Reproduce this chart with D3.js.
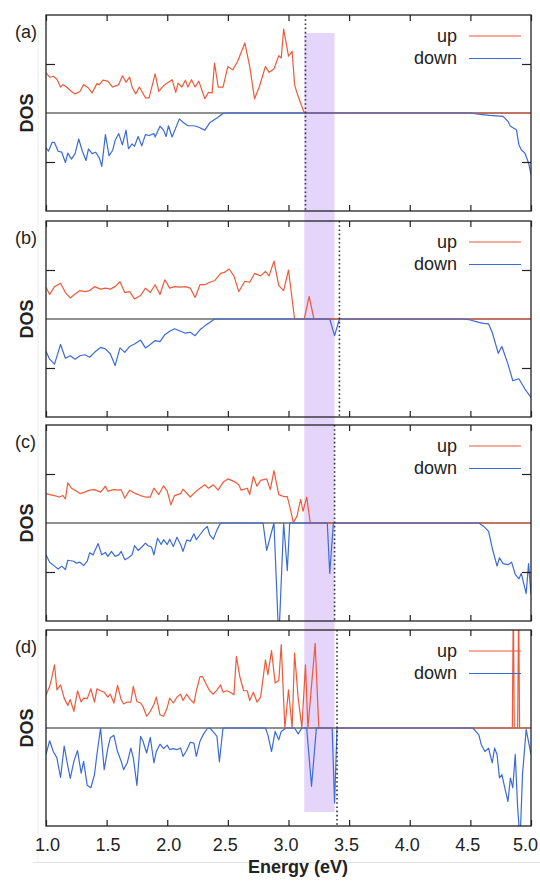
<!DOCTYPE html>
<html>
<head>
<meta charset="utf-8">
<script src="https://cdn.jsdelivr.net/npm/d3@7"></script>
<style>
  html, body { margin: 0; padding: 0; background: #fff; }
  #chart svg text { font-family: "Liberation Sans", Arial, Helvetica, sans-serif; fill: #222; }
</style>
</head>
<body>
<div id="chart"></div>
<script>
// DOS curves, [energy eV, DOS] pairs (arbitrary units, tick = 1)
const upA = [[1.00,0.82],[1.03,0.73],[1.06,0.75],[1.09,0.69],[1.12,0.53],[1.14,0.58],[1.17,0.53],[1.21,0.44],[1.24,0.39],[1.28,0.44],[1.31,0.58],[1.35,0.51],[1.38,0.41],[1.42,0.60],[1.44,0.58],[1.47,0.67],[1.51,0.65],[1.55,0.53],[1.60,0.58],[1.63,0.76],[1.66,0.63],[1.69,0.73],[1.71,0.53],[1.74,0.39],[1.77,0.53],[1.82,0.31],[1.85,0.31],[1.90,0.80],[1.93,0.44],[1.97,0.56],[2.00,0.61],[2.04,0.68],[2.07,0.42],[2.09,0.61],[2.12,0.53],[2.15,0.67],[2.17,0.53],[2.20,0.68],[2.23,0.53],[2.26,0.65],[2.31,0.29],[2.34,0.42],[2.37,0.41],[2.39,1.02],[2.42,0.53],[2.46,0.53],[2.50,0.95],[2.54,0.88],[2.58,1.05],[2.64,1.43],[2.68,0.95],[2.72,0.29],[2.76,0.54],[2.81,0.95],[2.84,0.83],[2.88,0.90],[2.92,1.17],[2.94,1.12],[2.96,1.71],[3.00,1.16],[3.03,1.26],[3.05,0.58],[3.07,0.41],[3.09,0.27],[3.13,0],[5.00,0]];
const downA = [[1.00,-0.71],[1.02,-0.78],[1.05,-0.60],[1.07,-0.60],[1.10,-0.78],[1.13,-0.80],[1.16,-1.01],[1.18,-0.82],[1.21,-0.94],[1.24,-0.83],[1.27,-0.53],[1.30,-0.78],[1.33,-0.97],[1.35,-0.73],[1.38,-0.83],[1.41,-0.80],[1.44,-0.92],[1.46,-1.09],[1.49,-0.44],[1.52,-0.87],[1.55,-0.76],[1.57,-0.56],[1.60,-0.42],[1.63,-0.65],[1.66,-0.35],[1.68,-0.73],[1.71,-0.63],[1.73,-0.68],[1.76,-0.48],[1.79,-0.67],[1.82,-0.44],[1.85,-0.46],[1.89,-0.42],[1.90,-0.49],[1.94,-0.27],[1.97,-0.35],[1.99,-0.48],[2.01,-0.26],[2.04,-0.49],[2.10,-0.12],[2.13,-0.19],[2.17,-0.26],[2.22,-0.26],[2.26,-0.29],[2.31,-0.35],[2.35,-0.20],[2.41,-0.10],[2.46,-0.01],[2.50,0],[4.50,0],[4.58,-0.03],[4.66,-0.05],[4.77,-0.07],[4.81,-0.17],[4.83,-0.27],[4.88,-0.34],[4.90,-0.65],[4.92,-0.75],[4.95,-0.82],[4.98,-1.02],[5.00,-1.26]];

const upB = [[1.00,0.65],[1.03,0.50],[1.07,0.66],[1.12,0.73],[1.16,0.54],[1.20,0.43],[1.24,0.51],[1.28,0.58],[1.32,0.56],[1.36,0.58],[1.40,0.66],[1.45,0.61],[1.49,0.63],[1.53,0.61],[1.57,0.66],[1.61,0.76],[1.65,0.54],[1.69,0.56],[1.73,0.41],[1.78,0.48],[1.82,0.63],[1.86,0.54],[1.90,0.70],[1.94,0.50],[1.98,0.80],[2.02,0.63],[2.06,0.66],[2.11,0.65],[2.15,0.66],[2.19,0.63],[2.23,0.44],[2.27,0.70],[2.31,0.70],[2.35,0.75],[2.39,0.78],[2.44,0.93],[2.47,0.95],[2.51,1.02],[2.55,0.88],[2.59,0.56],[2.64,0.77],[2.68,0.75],[2.72,0.93],[2.77,0.88],[2.81,0.97],[2.84,0.88],[2.88,1.18],[2.92,0.68],[2.96,0.58],[3.00,1.00],[3.05,0],[3.13,0],[3.17,0.46],[3.21,0],[5.00,0]];
const downB = [[1.00,-0.66],[1.03,-0.82],[1.07,-0.92],[1.12,-0.52],[1.16,-0.80],[1.20,-0.75],[1.24,-0.82],[1.28,-0.75],[1.32,-0.73],[1.36,-0.78],[1.40,-0.68],[1.45,-0.58],[1.49,-0.61],[1.53,-0.71],[1.57,-0.95],[1.61,-0.59],[1.65,-0.68],[1.69,-0.56],[1.73,-0.51],[1.78,-0.43],[1.82,-0.59],[1.86,-0.52],[1.90,-0.44],[1.94,-0.46],[1.98,-0.32],[2.02,-0.25],[2.06,-0.20],[2.11,-0.25],[2.15,-0.29],[2.19,-0.27],[2.23,-0.34],[2.27,-0.22],[2.31,-0.14],[2.35,-0.07],[2.39,0],[3.34,0],[3.38,-0.34],[3.42,0],[4.44,0],[4.50,-0.02],[4.57,-0.07],[4.61,-0.09],[4.65,-0.10],[4.68,-0.27],[4.73,-0.70],[4.76,-0.56],[4.81,-0.92],[4.85,-1.26],[4.90,-1.22],[4.95,-1.43],[5.00,-1.60]];

const upC = [[1.00,0.60],[1.03,0.58],[1.07,0.56],[1.11,0.53],[1.14,0.56],[1.16,0.49],[1.18,0.82],[1.21,0.71],[1.24,0.67],[1.28,0.60],[1.32,0.63],[1.36,0.67],[1.40,0.68],[1.45,0.63],[1.49,0.75],[1.51,0.65],[1.56,0.68],[1.60,0.67],[1.62,0.68],[1.65,0.51],[1.69,0.67],[1.73,0.61],[1.78,0.56],[1.82,0.53],[1.86,0.53],[1.89,0.71],[1.93,0.58],[1.97,0.76],[2.00,0.65],[2.03,0.37],[2.06,0.56],[2.11,0.60],[2.13,0.69],[2.19,0.53],[2.23,0.63],[2.27,0.71],[2.31,0.78],[2.34,0.71],[2.38,0.78],[2.42,0.67],[2.46,0.83],[2.50,0.90],[2.55,0.85],[2.59,0.78],[2.61,0.67],[2.66,0.71],[2.68,0.58],[2.71,0.95],[2.74,0.75],[2.77,0.87],[2.82,0.90],[2.85,0.68],[2.88,1.07],[2.92,0.58],[2.96,0.54],[2.99,0.54],[3.01,0.34],[3.04,0.01],[3.07,0.14],[3.10,0.48],[3.12,0.24],[3.15,0.53],[3.18,0],[5.00,0]];
const downC = [[1.00,-0.65],[1.03,-0.80],[1.07,-0.88],[1.10,-0.94],[1.13,-0.88],[1.16,-0.95],[1.18,-0.76],[1.23,-0.78],[1.25,-0.82],[1.28,-0.80],[1.31,-0.87],[1.34,-0.78],[1.36,-0.61],[1.39,-0.65],[1.40,-0.58],[1.43,-0.42],[1.46,-0.65],[1.49,-0.60],[1.51,-0.68],[1.54,-0.58],[1.57,-0.68],[1.60,-0.65],[1.62,-0.58],[1.65,-0.75],[1.68,-0.71],[1.71,-0.65],[1.73,-0.46],[1.76,-0.56],[1.79,-0.49],[1.82,-0.41],[1.84,-0.46],[1.87,-0.49],[1.89,-0.65],[1.92,-0.31],[1.95,-0.44],[1.97,-0.34],[2.00,-0.44],[2.02,-0.33],[2.05,-0.48],[2.08,-0.29],[2.11,-0.44],[2.13,-0.58],[2.16,-0.35],[2.19,-0.37],[2.22,-0.22],[2.24,-0.34],[2.27,-0.24],[2.30,-0.14],[2.33,-0.07],[2.35,-0.24],[2.38,-0.33],[2.41,-0.14],[2.44,0],[2.79,0],[2.82,-0.56],[2.88,0],[2.92,-2.4],[2.96,0],[2.99,-0.97],[3.01,0],[3.32,0],[3.34,-1.03],[3.37,0],[4.57,0],[4.61,-0.07],[4.65,-0.17],[4.68,-0.51],[4.72,-0.88],[4.74,-0.71],[4.77,-0.83],[4.81,-0.85],[4.84,-0.80],[4.87,-1.05],[4.90,-1.14],[4.92,-1.03],[4.96,-1.44],[4.98,-0.83],[5.00,-1.46]];

const upD = [[1.00,0.67],[1.03,0.85],[1.05,1.05],[1.07,1.29],[1.09,0.78],[1.12,0.88],[1.15,0.61],[1.18,0.46],[1.20,0.58],[1.23,0.34],[1.26,0.76],[1.29,0.53],[1.31,0.61],[1.34,0.60],[1.37,0.80],[1.40,0.53],[1.42,0.80],[1.45,0.76],[1.48,0.73],[1.51,0.63],[1.53,0.69],[1.56,0.51],[1.59,0.87],[1.62,0.58],[1.64,0.49],[1.67,0.53],[1.70,0.53],[1.72,0.85],[1.75,0.54],[1.78,0.51],[1.80,0.44],[1.83,0.24],[1.86,0.34],[1.89,0.48],[1.91,0.63],[1.94,0.27],[1.97,0.24],[2.00,0.42],[2.02,0.61],[2.05,0.51],[2.08,0.63],[2.11,0.69],[2.13,0.56],[2.16,0.69],[2.19,0.58],[2.22,0.51],[2.24,0.76],[2.27,1.05],[2.29,1.05],[2.33,0.85],[2.35,0.76],[2.38,0.69],[2.41,0.78],[2.44,0.88],[2.46,0.73],[2.49,0.76],[2.52,0.73],[2.55,0.68],[2.57,1.46],[2.60,1.03],[2.63,0.76],[2.66,0.76],[2.68,0.56],[2.71,0.73],[2.74,0.53],[2.77,0.63],[2.81,1.39],[2.83,1.09],[2.86,1.58],[2.89,0.92],[2.92,0.97],[2.94,1.70],[2.97,0],[3.00,0.78],[3.03,0],[3.05,1.53],[3.08,0.61],[3.11,0],[3.14,1.29],[3.16,0],[3.22,1.73],[3.25,0],[4.846,0],[4.854,2.6],[4.862,0],[4.890,0],[4.898,2.6],[4.906,0],[5.00,0]];
const downD = [[1.00,-0.54],[1.03,-0.26],[1.06,-0.48],[1.09,-0.61],[1.12,-1.01],[1.15,-0.37],[1.18,-0.78],[1.20,-1.03],[1.23,-0.68],[1.26,-0.46],[1.29,-0.92],[1.31,-0.68],[1.34,-1.17],[1.37,-1.22],[1.40,-0.95],[1.42,-0.54],[1.45,0],[1.48,-0.85],[1.51,-0.41],[1.53,-0.20],[1.56,-0.15],[1.59,-0.48],[1.62,-0.68],[1.64,-0.85],[1.67,-0.71],[1.70,-0.41],[1.72,-0.61],[1.75,-1.17],[1.78,-0.17],[1.80,-0.27],[1.83,-0.51],[1.86,-0.19],[1.89,-0.71],[1.91,-0.48],[1.94,-0.33],[1.97,-0.42],[2.00,-0.35],[2.02,-0.44],[2.05,-0.42],[2.08,-0.44],[2.11,-0.41],[2.13,-0.58],[2.16,-0.46],[2.19,-0.29],[2.22,-0.31],[2.24,-0.58],[2.27,-0.27],[2.30,-0.12],[2.33,-0.01],[2.35,0],[2.38,-0.08],[2.41,-0.17],[2.43,-0.69],[2.46,0],[2.81,0],[2.83,-0.14],[2.86,-0.48],[2.89,-0.07],[2.92,-0.24],[2.94,-0.07],[2.98,0],[3.05,0],[3.08,-0.12],[3.11,0],[3.15,0],[3.19,-1.19],[3.23,0],[3.36,0],[3.38,-1.53],[3.40,0],[4.52,0],[4.57,-0.14],[4.59,-0.34],[4.62,-0.48],[4.65,-0.41],[4.68,-0.71],[4.70,-0.41],[4.72,-0.54],[4.74,-1.02],[4.76,-0.95],[4.79,-1.29],[4.81,-1.50],[4.83,-1.02],[4.85,-1.22],[4.87,-0.54],[4.89,-1.63],[4.91,-2.3],[4.93,-0.95],[4.96,-0.03],[5.00,-0.54]];

const panelLetters = ["(a)", "(b)", "(c)", "(d)"];
const gapEdge = [3.14, 3.42, 3.38, 3.40];     // dotted line per panel (eV)
const bandRange = [3.13, 3.38];              // shaded window (eV)
const xTicks = [1.0, 1.5, 2.0, 2.5, 3.0, 3.5, 4.0, 4.5, 5.0];
const yTicks = [-1, 1];
const seriesNames = ["up", "down"];

const width = 540;
const height = 881;
const panelTops = [15, 221, 425, 630];
const panelHeight = 196;
const upColor = "#ee5a3a";
const downColor = "#3b6bd8";

const panels = [
  { letter: panelLetters[0], up: upA, down: downA, gap: gapEdge[0], yTicks: yTicks },
  { letter: panelLetters[1], up: upB, down: downB, gap: gapEdge[1], yTicks: yTicks },
  { letter: panelLetters[2], up: upC, down: downC, gap: gapEdge[2], yTicks: yTicks },
  { letter: panelLetters[3], up: upD, down: downD, gap: gapEdge[3], yTicks: [] }
];

const x = d3.scaleLinear().domain([1, 5]).range([46, 531]);

const svg = d3.select("#chart")
  .append("svg")
  .attr("width", width)
  .attr("height", height)
  .attr("viewBox", [0, 0, width, height]);

// faint edges left over from the pasted figure
svg.append("line")
  .attr("x1", 38).attr("x2", 38).attr("y1", 30).attr("y2", 862)
  .attr("stroke", "#ececec").attr("stroke-width", 1);
svg.append("line")
  .attr("x1", 33).attr("x2", 540).attr("y1", 862.5).attr("y2", 862.5)
  .attr("stroke", "#e4e4e4").attr("stroke-width", 1);

// shaded window across all panels, behind the curves
svg.append("rect")
  .attr("x", x(bandRange[0]))
  .attr("width", x(bandRange[1]) - x(bandRange[0]))
  .attr("y", 33)
  .attr("height", 812 - 33)
  .attr("fill", "#e5d5fb");

const defs = svg.append("defs");

panels.forEach(function (p, i) {
  const top = panelTops[i];
  const bottom = top + panelHeight;
  const y = d3.scaleLinear().domain([-2, 2]).range([bottom, top]);

  defs.append("clipPath")
    .attr("id", "clip" + i)
    .append("rect")
    .attr("x", x.range()[0])
    .attr("y", top)
    .attr("width", x.range()[1] - x.range()[0])
    .attr("height", panelHeight);

  const g = svg.append("g").attr("class", "panel");
  const plot = g.append("g").attr("clip-path", "url(#clip" + i + ")");

  plot.append("line")
    .attr("x1", x(1)).attr("x2", x(5))
    .attr("y1", y(0)).attr("y2", y(0))
    .attr("stroke", "#222").attr("stroke-width", 1.2);

  const line = d3.line()
    .x(function (d) { return x(d[0]); })
    .y(function (d) { return y(d[1]); });

  plot.append("path")
    .datum(p.up)
    .attr("d", line)
    .attr("fill", "none")
    .attr("stroke", upColor)
    .attr("stroke-width", 1.2)
    .attr("stroke-linejoin", "round");

  plot.append("path")
    .datum(p.down)
    .attr("d", line)
    .attr("fill", "none")
    .attr("stroke", downColor)
    .attr("stroke-width", 1.2)
    .attr("stroke-linejoin", "round");

  g.append("line")
    .attr("x1", x(p.gap)).attr("x2", x(p.gap))
    .attr("y1", top).attr("y2", bottom)
    .attr("stroke", "#333")
    .attr("stroke-width", 1.6)
    .attr("stroke-dasharray", "1.6,2.6");

  const isLast = i === panels.length - 1;
  const topAxis = d3.axisTop(x).tickValues(xTicks).tickSizeInner(-6).tickSizeOuter(0).tickFormat("");
  const bottomAxis = d3.axisBottom(x).tickValues(xTicks).tickSizeInner(-6).tickSizeOuter(0)
    .tickPadding(12)
    .tickFormat(isLast ? d3.format(".1f") : "");
  const leftAxis = d3.axisLeft(y).tickValues(p.yTicks).tickSizeInner(-9).tickSizeOuter(0).tickFormat("");
  const rightAxis = d3.axisRight(y).tickValues(p.yTicks).tickSizeInner(-9).tickSizeOuter(0).tickFormat("");

  [
    g.append("g").attr("transform", "translate(0," + top + ")").call(topAxis),
    g.append("g").attr("transform", "translate(0," + bottom + ")").call(bottomAxis),
    g.append("g").attr("transform", "translate(" + x(1) + ",0)").call(leftAxis),
    g.append("g").attr("transform", "translate(" + x(5) + ",0)").call(rightAxis)
  ].forEach(function (ax) {
    ax.select(".domain").remove();
    ax.selectAll(".tick line").attr("stroke", "#222").attr("stroke-width", 1.2);
    ax.attr("font-family", null).attr("font-size", null);
    ax.selectAll(".tick text")
      .style("font-size", "18px")
      .attr("dx", function (d) {
        if (d === 5) return -6;
        return d >= 2.5 ? -3 : 1;
      });
  });

  g.append("rect")
    .attr("x", x(1))
    .attr("y", top)
    .attr("width", x(5) - x(1))
    .attr("height", panelHeight)
    .attr("fill", "none")
    .attr("stroke", "#222")
    .attr("stroke-width", 1.3);

  g.append("text")
    .attr("x", 15)
    .attr("y", top + 23)
    .style("font-size", "18px")
    .text(p.letter);

  g.append("text")
    .attr("transform", "translate(33," + (top + panelHeight / 2) + ") rotate(-90)")
    .attr("text-anchor", "middle")
    .style("font-size", "18px")
    .style("font-weight", "bold")
    .text("DOS");

  const legend = g.append("g").attr("class", "legend");
  seriesNames.forEach(function (name, k) {
    const ly = top + 21 + k * 22.5;
    legend.append("text")
      .attr("x", 457)
      .attr("y", ly + 5.5)
      .attr("text-anchor", "end")
      .style("font-size", "18px")
      .text(name);
    legend.append("line")
      .attr("x1", 469).attr("x2", 521)
      .attr("y1", ly).attr("y2", ly)
      .attr("stroke", k === 0 ? upColor : downColor)
      .attr("stroke-width", 1.2);
  });
});

svg.append("text")
  .attr("x", 298)
  .attr("y", 873)
  .attr("text-anchor", "middle")
  .style("font-size", "18px")
  .style("font-weight", "bold")
  .text("Energy (eV)");
</script>
</body>
</html>
